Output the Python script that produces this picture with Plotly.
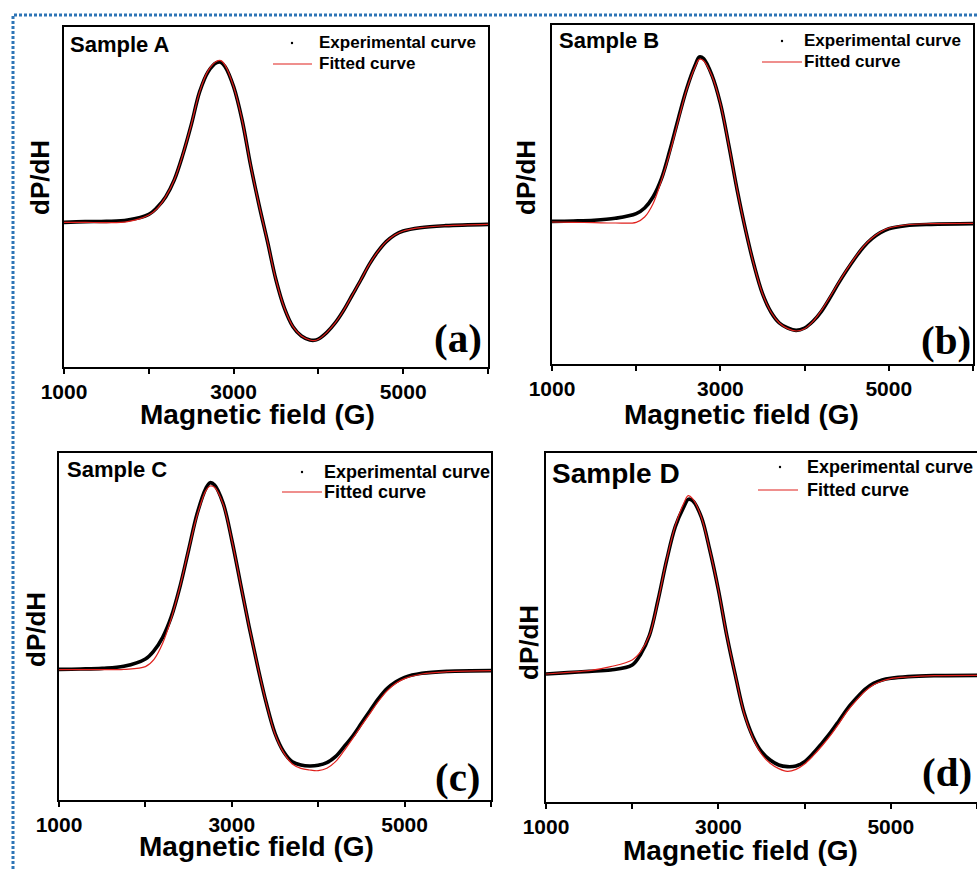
import plotly.graph_objects as go

W, H = 977, 869

# ---- EPR derivative spectra (dP/dH, arbitrary units) vs magnetic field (G) ----
field_a = [1000, 1250, 1500, 1750, 2000, 2100, 2200, 2300, 2400, 2500, 2600, 2700, 2800, 2850,
           2900, 3000, 3100, 3200, 3300, 3400, 3500, 3600, 3700, 3800, 3900, 3950, 4000, 4100,
           4200, 4300, 4400, 4500, 4600, 4700, 4800, 4900, 5000, 5200, 5500, 6000]
exp_a = [3, 5, 6, 10, 27, 48, 80, 130, 205, 295, 395, 455, 482, 483,
         470, 410, 310, 175, 55, -55, -170, -255, -310, -338, -350, -351, -347, -327,
         -298, -260, -215, -170, -123, -85, -55, -35, -23, -13, -7, -3]
fit_a = [3, 3, 2, 5, 25, 45, 80, 130, 205, 295, 395, 458, 486, 488,
         474, 410, 310, 175, 55, -55, -170, -255, -310, -338, -350, -352, -348, -327,
         -298, -260, -215, -170, -123, -85, -55, -35, -23, -13, -7, -3]

field_b = [1000, 1250, 1500, 1750, 2000, 2100, 2200, 2300, 2400, 2500, 2600, 2700, 2750, 2800,
           2900, 3000, 3100, 3200, 3300, 3400, 3500, 3600, 3700, 3800, 3900, 4000, 4100, 4200,
           4300, 4400, 4500, 4600, 4700, 4800, 4900, 5000, 5200, 5500, 6000]
exp_b = [2, 3, 5, 11, 25, 42, 75, 130, 215, 310, 400, 470, 495, 490,
         440, 355, 230, 95, -25, -130, -215, -270, -303, -318, -325, -318, -298, -268,
         -228, -185, -145, -108, -75, -50, -32, -20, -11, -7, -5]
fit_b = [0, -1, -2, -3, -1, 15, 55, 125, 208, 305, 398, 466, 488, 484,
         438, 355, 230, 95, -25, -130, -215, -270, -303, -320, -327, -320, -298, -265,
         -225, -183, -143, -106, -73, -48, -30, -18, -9, -5, -4]

field_c = [1000, 1250, 1500, 1750, 2000, 2100, 2200, 2300, 2400, 2500, 2600, 2700, 2750, 2800,
           2900, 3000, 3100, 3200, 3300, 3400, 3500, 3600, 3700, 3800, 3900, 4000, 4100, 4200,
           4300, 4400, 4500, 4600, 4700, 4800, 4900, 5000, 5200, 5500, 6000]
exp_c = [2, 3, 5, 11, 33, 58, 98, 160, 250, 360, 470, 545, 562, 555,
         500, 390, 260, 130, 10, -100, -190, -245, -275, -285, -288, -286, -278, -260,
         -230, -198, -160, -122, -85, -55, -35, -22, -10, -4, -2]
fit_c = [1, 1, 1, 2, 10, 32, 80, 155, 250, 360, 465, 538, 552, 548,
         497, 390, 260, 130, 10, -100, -192, -248, -282, -295, -300, -302, -295, -275,
         -242, -205, -167, -130, -93, -62, -40, -26, -12, -5, -2]

field_d = [1000, 1250, 1500, 1750, 2000, 2100, 2200, 2300, 2400, 2500, 2600, 2650, 2700, 2800,
           2900, 3000, 3100, 3200, 3300, 3400, 3500, 3600, 3700, 3800, 3900, 4000, 4100, 4200,
           4300, 4400, 4500, 4600, 4700, 4800, 4900, 5000, 5200, 5500, 6000]
exp_d = [2, 6, 10, 14, 29, 62, 118, 224, 344, 444, 504, 526, 522, 474,
         374, 254, 114, -6, -116, -186, -231, -256, -271, -276, -274, -261, -236, -206,
         -174, -138, -101, -71, -44, -26, -16, -11, -6, -3, -2]
fit_d = [2, 7, 12, 24, 44, 70, 118, 222, 345, 447, 515, 537, 528, 474,
         374, 254, 114, -6, -118, -190, -238, -266, -282, -290, -284, -268, -243, -214,
         -182, -146, -108, -77, -50, -30, -19, -12, -7, -3, -2]

samples = ["Sample A", "Sample B", "Sample C", "Sample D"]
letters = ["(a)", "(b)", "(c)", "(d)"]
tick_values = [1000, 2000, 3000, 4000, 5000, 6000]
tick_labels = ["1000", "", "3000", "", "5000", ""]

SANS = "Liberation Sans, Arial, sans-serif"
SERIF = "Liberation Serif, Times New Roman, serif"


def px(x):
    return x / W


def py(y):
    return 1 - y / H


# panel geometry in page pixels
frames = [
    dict(box=(64, 488, 27, 367), yr=(-431, 589), sample=(68, 44, 22),
         leg=(292, 317, 43, 64, 273, 312, 17), letter=(484, 338), xt=(257, 414), yt=(40, 178),
         mirror=True),
    dict(box=(552, 973, 25, 364), yr=(-426, 591), sample=(557, 41, 22),
         leg=(782, 802, 41, 62, 762, 802, 17), letter=(973, 340), xt=(741, 414), yt=(526, 178),
         mirror=True),
    dict(box=(59, 491, 453, 800), yr=(-390, 651), sample=(65, 470, 22),
         leg=(302, 322, 472, 492, 282, 322, 18), letter=(483, 777), xt=(256, 846), yt=(36, 630),
         mirror=True),
    dict(box=(546, 977, 453, 802), yr=(-382, 665), sample=(550, 473, 28),
         leg=(780, 805, 467, 490, 758, 798, 18), letter=(974, 772), xt=(740, 850), yt=(529, 643),
         mirror=False),
]

series = [(field_a, exp_a, fit_a), (field_b, exp_b, fit_b),
          (field_c, exp_c, fit_c), (field_d, exp_d, fit_d)]

fig = go.Figure()
annotations = []
shapes = []

for i, (fr, (fld, ex, ft)) in enumerate(zip(frames, series)):
    n = "" if i == 0 else str(i + 1)
    xa, ya = "x" + n, "y" + n
    fig.add_trace(go.Scatter(x=fld, y=ex, xaxis=xa, yaxis=ya, mode="lines",
                             line=dict(color="black", width=3.6, shape="spline", smoothing=1.0),
                             name="Experimental curve", showlegend=False))
    fig.add_trace(go.Scatter(x=fld, y=ft, xaxis=xa, yaxis=ya, mode="lines",
                             line=dict(color="#e0201c", width=1.2, shape="spline", smoothing=1.0),
                             name="Fitted curve", showlegend=False))

    l, r, t, b = fr["box"]
    fig.update_layout(**{
        "xaxis" + n: dict(domain=[px(l), min(px(r), 1.0)], range=[1000, 6000], anchor=ya,
                          tickvals=tick_values, ticktext=tick_labels, ticks="outside",
                          ticklen=5, tickwidth=2, tickcolor="black", automargin=False,
                          tickfont=dict(family=SANS, size=21, color="black", weight="bold"),
                          showline=True, linecolor="black", linewidth=2, mirror=True,
                          showgrid=False, zeroline=False),
        "yaxis" + n: dict(domain=[py(b), py(t)], range=list(fr["yr"]), anchor=xa,
                          showticklabels=False, ticks="", showline=True, linecolor="black",
                          linewidth=2, mirror=fr["mirror"], showgrid=False, zeroline=False,
                          automargin=False),
    })

    sx, sy, ss = fr["sample"]
    annotations.append(dict(x=px(sx), y=py(sy), xref="paper", yref="paper", text=samples[i],
                            showarrow=False, xanchor="left", yanchor="middle",
                            font=dict(family=SANS, size=ss, color="black", weight="bold")))

    dx, tx, y1, y2, lx0, lx1, fs = fr["leg"]
    annotations.append(dict(x=px(tx), y=py(y1), xref="paper", yref="paper",
                            text="Experimental curve", showarrow=False, xanchor="left",
                            yanchor="middle",
                            font=dict(family=SANS, size=fs, color="black", weight="bold")))
    annotations.append(dict(x=px(tx), y=py(y2), xref="paper", yref="paper",
                            text="Fitted curve", showarrow=False, xanchor="left",
                            yanchor="middle",
                            font=dict(family=SANS, size=fs, color="black", weight="bold")))
    shapes.append(dict(type="circle", xref="paper", yref="paper",
                       x0=px(dx - 1.2), x1=px(dx + 1.2), y0=py(y1 + 1.2), y1=py(y1 - 1.2),
                       fillcolor="black", line=dict(width=0)))
    shapes.append(dict(type="line", xref="paper", yref="paper",
                       x0=px(lx0), x1=px(lx1), y0=py(y2), y1=py(y2),
                       line=dict(color="#e0201c", width=1.2)))

    lx, ly = fr["letter"]
    annotations.append(dict(x=px(lx), y=py(ly), xref="paper", yref="paper", text=letters[i],
                            showarrow=False, xanchor="right", yanchor="middle",
                            font=dict(family=SERIF, size=41, color="black", weight="bold")))

    xtx, xty = fr["xt"]
    annotations.append(dict(x=px(xtx), y=py(xty), xref="paper", yref="paper",
                            text="Magnetic field (G)", showarrow=False, xanchor="center",
                            yanchor="middle",
                            font=dict(family=SANS, size=28, color="black", weight="bold")))
    ytx, yty = fr["yt"]
    annotations.append(dict(x=px(ytx), y=py(yty), xref="paper", yref="paper",
                            text="dP/dH", showarrow=False, textangle=-90, xanchor="center",
                            yanchor="middle",
                            font=dict(family=SANS, size=26, color="black", weight="bold")))

# dotted frame around the figure
shapes.append(dict(type="path", xref="paper", yref="paper",
                   path=f"M {px(13)},{py(869)} L {px(13)},{py(15)} L {px(977)},{py(15)}",
                   line=dict(color="#2e75b6", width=3, dash="3px,2px")))

fig.update_layout(template="none", width=W, height=H, autosize=False,
                  margin=dict(l=0, r=0, t=0, b=0, pad=0),
                  showlegend=False,
                  paper_bgcolor="white", plot_bgcolor="white",
                  annotations=annotations, shapes=shapes)

fig.write_html("out.html")
